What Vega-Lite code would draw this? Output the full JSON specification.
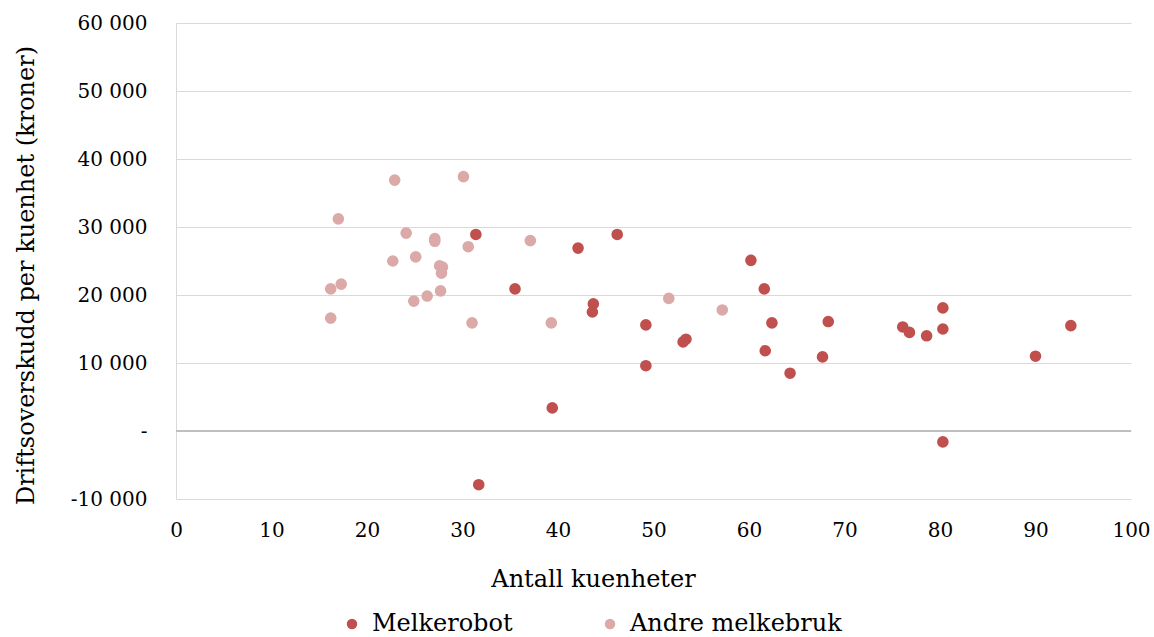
{
  "$schema": "https://vega.github.io/schema/vega-lite/v6.json",
  "autosize": "none",
  "width": 955,
  "height": 476,
  "padding": {"left": 176, "top": 23, "right": 23, "bottom": 138},
  "background": "white",
  "config": {
    "font": "DejaVu Serif",
    "view": {"stroke": null}
  },
  "data": {
    "values": [
      {"kuenheter": 16.2, "overskudd": 20900, "gruppe": "Andre melkebruk"},
      {"kuenheter": 16.2, "overskudd": 16600, "gruppe": "Andre melkebruk"},
      {"kuenheter": 17.3, "overskudd": 21600, "gruppe": "Andre melkebruk"},
      {"kuenheter": 17.0, "overskudd": 31200, "gruppe": "Andre melkebruk"},
      {"kuenheter": 22.9, "overskudd": 36900, "gruppe": "Andre melkebruk"},
      {"kuenheter": 22.7, "overskudd": 25000, "gruppe": "Andre melkebruk"},
      {"kuenheter": 24.1, "overskudd": 29100, "gruppe": "Andre melkebruk"},
      {"kuenheter": 25.1, "overskudd": 25600, "gruppe": "Andre melkebruk"},
      {"kuenheter": 24.9, "overskudd": 19100, "gruppe": "Andre melkebruk"},
      {"kuenheter": 26.3, "overskudd": 19850, "gruppe": "Andre melkebruk"},
      {"kuenheter": 27.1, "overskudd": 28300, "gruppe": "Andre melkebruk"},
      {"kuenheter": 27.1, "overskudd": 27900, "gruppe": "Andre melkebruk"},
      {"kuenheter": 27.6, "overskudd": 24300, "gruppe": "Andre melkebruk"},
      {"kuenheter": 27.9, "overskudd": 24100, "gruppe": "Andre melkebruk"},
      {"kuenheter": 27.8, "overskudd": 23200, "gruppe": "Andre melkebruk"},
      {"kuenheter": 27.7, "overskudd": 20600, "gruppe": "Andre melkebruk"},
      {"kuenheter": 30.1, "overskudd": 37400, "gruppe": "Andre melkebruk"},
      {"kuenheter": 30.6, "overskudd": 27100, "gruppe": "Andre melkebruk"},
      {"kuenheter": 31.0, "overskudd": 15900, "gruppe": "Andre melkebruk"},
      {"kuenheter": 37.1, "overskudd": 28000, "gruppe": "Andre melkebruk"},
      {"kuenheter": 39.3, "overskudd": 15900, "gruppe": "Andre melkebruk"},
      {"kuenheter": 51.6, "overskudd": 19500, "gruppe": "Andre melkebruk"},
      {"kuenheter": 57.2, "overskudd": 17800, "gruppe": "Andre melkebruk"},
      {"kuenheter": 31.4, "overskudd": 28900, "gruppe": "Melkerobot"},
      {"kuenheter": 31.7, "overskudd": -7900, "gruppe": "Melkerobot"},
      {"kuenheter": 35.5, "overskudd": 20900, "gruppe": "Melkerobot"},
      {"kuenheter": 39.4, "overskudd": 3400, "gruppe": "Melkerobot"},
      {"kuenheter": 42.1, "overskudd": 26900, "gruppe": "Melkerobot"},
      {"kuenheter": 43.6, "overskudd": 17500, "gruppe": "Melkerobot"},
      {"kuenheter": 43.7, "overskudd": 18700, "gruppe": "Melkerobot"},
      {"kuenheter": 46.2, "overskudd": 28900, "gruppe": "Melkerobot"},
      {"kuenheter": 49.2, "overskudd": 15600, "gruppe": "Melkerobot"},
      {"kuenheter": 49.2, "overskudd": 9600, "gruppe": "Melkerobot"},
      {"kuenheter": 53.1, "overskudd": 13100, "gruppe": "Melkerobot"},
      {"kuenheter": 53.4, "overskudd": 13500, "gruppe": "Melkerobot"},
      {"kuenheter": 60.2, "overskudd": 25100, "gruppe": "Melkerobot"},
      {"kuenheter": 61.6, "overskudd": 20900, "gruppe": "Melkerobot"},
      {"kuenheter": 61.7, "overskudd": 11800, "gruppe": "Melkerobot"},
      {"kuenheter": 62.4, "overskudd": 15900, "gruppe": "Melkerobot"},
      {"kuenheter": 64.3, "overskudd": 8500, "gruppe": "Melkerobot"},
      {"kuenheter": 67.7, "overskudd": 10900, "gruppe": "Melkerobot"},
      {"kuenheter": 68.3, "overskudd": 16100, "gruppe": "Melkerobot"},
      {"kuenheter": 76.1, "overskudd": 15300, "gruppe": "Melkerobot"},
      {"kuenheter": 76.8, "overskudd": 14500, "gruppe": "Melkerobot"},
      {"kuenheter": 78.6, "overskudd": 14000, "gruppe": "Melkerobot"},
      {"kuenheter": 80.3, "overskudd": 18100, "gruppe": "Melkerobot"},
      {"kuenheter": 80.3, "overskudd": 15000, "gruppe": "Melkerobot"},
      {"kuenheter": 80.3, "overskudd": -1600, "gruppe": "Melkerobot"},
      {"kuenheter": 90.0, "overskudd": 11000, "gruppe": "Melkerobot"},
      {"kuenheter": 93.7, "overskudd": 15500, "gruppe": "Melkerobot"}
    ]
  },
  "layer": [
    {
      "mark": {"type": "rule", "color": "#bfbfbf", "strokeWidth": 1.5},
      "encoding": {"y": {"datum": 0, "type": "quantitative"}}
    },
    {
      "mark": {"type": "circle", "size": 135, "opacity": 1},
      "encoding": {
        "x": {
          "field": "kuenheter",
          "type": "quantitative",
          "scale": {"domain": [0, 100], "nice": false},
          "axis": {
            "title": "Antall kuenheter",
            "values": [0, 10, 20, 30, 40, 50, 60, 70, 80, 90, 100],
            "grid": false,
            "domain": false,
            "ticks": false,
            "labelFlush": false,
            "labelPadding": 21,
            "labelFontSize": 20,
            "labelColor": "#000000",
            "labelFont": "DejaVu Serif",
            "titleFont": "DejaVu Serif",
            "titleFontSize": 24,
            "titleFontWeight": "normal",
            "titleColor": "#000000",
            "titleX": 417,
            "titleY": 87,
            "titleBaseline": "alphabetic",
            "titleAnchor": null,
            "titleAlign": "center"
          }
        },
        "y": {
          "field": "overskudd",
          "type": "quantitative",
          "scale": {"domain": [-10000, 60000], "nice": false},
          "axis": {
            "title": "Driftsoverskudd per kuenhet (kroner)",
            "values": [-10000, 0, 10000, 20000, 30000, 40000, 50000, 60000],
            "labelExpr": "datum.value == 0 ? '-\u00a0\u00a0' : (datum.value < 0 ? '-' : '') + replace(format(abs(datum.value), ','), ',', ' ')",
            "grid": true,
            "gridColor": "#d9d9d9",
            "gridWidth": 1,
            "domain": true,
            "domainColor": "#d9d9d9",
            "domainWidth": 1,
            "ticks": false,
            "labelPadding": 29,
            "labelFontSize": 20,
            "labelColor": "#000000",
            "labelFont": "DejaVu Serif",
            "titleFont": "DejaVu Serif",
            "titleFontSize": 24,
            "titleFontWeight": "normal",
            "titleColor": "#000000",
            "titleAngle": -90,
            "titleX": -143,
            "titleY": 252,
            "titleBaseline": "alphabetic",
            "titleAlign": "center",
            "titleAnchor": null
          }
        },
        "color": {
          "field": "gruppe",
          "type": "nominal",
          "scale": {"domain": ["Melkerobot", "Andre melkebruk"], "range": ["#c0504d", "#daa9a8"]},
          "legend": {
            "title": null,
            "orient": "none",
            "direction": "horizontal",
            "legendX": 164,
            "legendY": 589,
            "symbolType": "circle",
            "symbolSize": 110,
            "symbolOpacity": 1,
            "labelFont": "DejaVu Serif",
            "labelFontSize": 24,
            "labelLimit": 400,
            "labelColor": "#000000",
            "labelOffset": 8,
            "columnPadding": 85,
            "padding": 0
          }
        }
      }
    }
  ]
}
